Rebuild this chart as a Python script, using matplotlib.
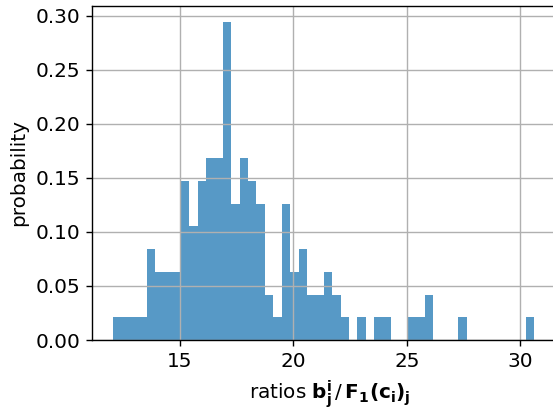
import numpy as np
import matplotlib
matplotlib.use("Agg")
import matplotlib.pyplot as plt

# histogram: 50 equal bins, counts per bin
bin_start = 12.06
bin_stop = 30.62
counts = [1, 1, 1, 1, 4, 3, 3, 3, 7, 5,
          7, 8, 8, 14, 6, 8, 7, 6, 2, 1,
          6, 3, 4, 2, 2, 3, 2, 1, 0, 1,
          0, 1, 1, 0, 0, 1, 1, 2, 0, 0,
          0, 1, 0, 0, 0, 0, 0, 0, 0, 1]

counts = np.array(counts, dtype=float)
edges = np.linspace(bin_start, bin_stop, len(counts) + 1)
width = edges[1] - edges[0]
prob = counts / (counts.sum() * width)  # density, like hist(density=True)

plt.rcParams['font.size'] = 11.5

fig = plt.figure(figsize=(553 / 125, 409 / 125), dpi=125)
# right edge of the axes falls outside the picture, as in the reference
ax = fig.add_axes([92.3 / 553, 69 / 409, 475 / 553, 334 / 409])

ax.bar(edges[:-1], prob, width=width, align='edge', color='#1f77b4', alpha=0.75)
ax.grid(True)
ax.set_xticks([15, 20, 25, 30])
ax.set_ylim(0, 0.309)
ax.set_xlim(11.13, 32.08)
ax.set_xlabel(r'ratios $\mathbf{b}_\mathbf{j}^\mathbf{i}\,/\,\mathbf{F_1(c_i)_j}$')
ax.set_ylabel('probability')

fig.savefig('out.png', dpi=125)
